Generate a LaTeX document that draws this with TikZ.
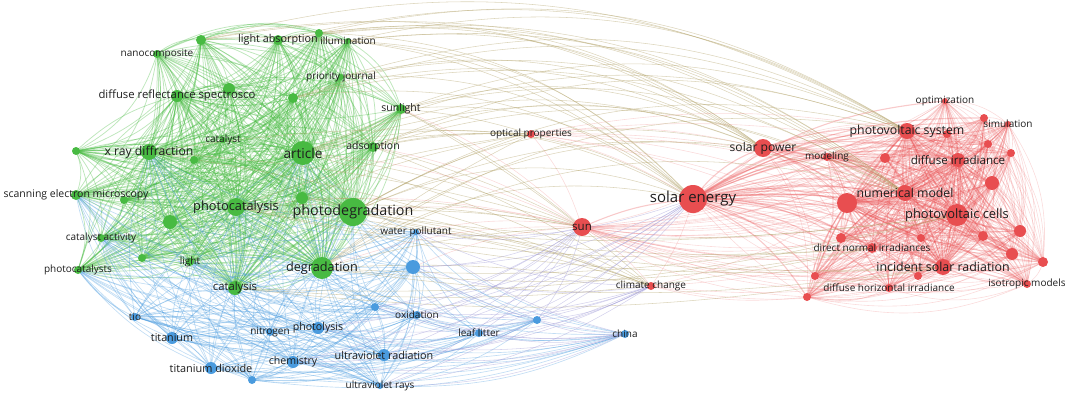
\documentclass[tikz,border=0pt]{standalone}
\usepackage{fontspec}
\setmainfont{Open Sans}
\usepackage{xcolor}
\usepackage{tikz}
\usetikzlibrary{backgrounds}

\definecolor{gclr}{RGB}{72,186,66}
\definecolor{rclr}{RGB}{232,78,80}
\definecolor{bclr}{RGB}{74,155,222}
\definecolor{grclr}{RGB}{178,162,105}
\definecolor{brclr}{RGB}{160,155,215}
\definecolor{txt}{RGB}{30,30,30}

\newcommand\greens{nanocomp,g1,lightabs,g2,illum,prior,drs,g3,g4,sunl,catalyst,g5,xray,article,adsorp,g6,sem,g7,g8,photocat,photodeg,g9,catact,g10,light,photocats,degrad,catalysis}
\newcommand\blues{waterpol,b1,b2,oxid,tio,titanium,nitrogen,photolys,uvrad,chem,tidiox,b3,uvrays}
\newcommand\reds{optim,r1,simul,pvsys,r2,solarpow,model,r3,r4,r5,diffirr,r6,nummod,r7,pvcells,r8,r9,r10,r11,dni,r12,isr,r13,r14,r15,iso,dhi,r16}

\begin{document}
\begin{tikzpicture}[
    x=1pt, y=-1pt,
    dot/.style    = {circle, inner sep=0pt, minimum size=#1pt},
    gdot/.style   = {dot=#1, fill=gclr},
    bdot/.style   = {dot=#1, fill=bclr},
    rdot/.style   = {dot=#1, fill=rclr},
    kw/.style     = {font=\fontsize{#1}{#1}\selectfont, text=txt, inner sep=0pt},
    gedge/.style  = {gclr, opacity=0.36, line width=0.75pt},
    bedge/.style  = {bclr, opacity=0.34, line width=0.65pt},
    redge/.style  = {rclr, opacity=0.2, line width=0.6pt},
    rhub/.style   = {rclr, opacity=0.3, line width=1.1pt},
    gredge/.style = {grclr, opacity=0.45, line width=0.55pt},
    bredge/.style = {brclr, opacity=0.45, line width=0.55pt}
]
  \useasboundingbox (0,0) rectangle (1065,399);

  % unlabeled items first
  \node[gdot=10] (g1)  at (201,40)  {};
  \node[gdot=8]  (g2)  at (319,33)  {};
  \node[gdot=12] (g3)  at (229,89)  {};
  \node[gdot=10] (g4)  at (293,98)  {};
  \node[gdot=8]  (g5)  at (194,160) {};
  \node[gdot=8]  (g6)  at (76,151)  {};
  \node[gdot=8]  (g7)  at (124,200) {};
  \node[gdot=12] (g8)  at (302,198) {};
  \node[gdot=14] (g9)  at (170,222) {};
  \node[gdot=8]  (g10) at (142,258) {};
  \node[bdot=14] (b1)  at (413,267) {};
  \node[bdot=8]  (b2)  at (375,307) {};
  \node[bdot=8]  (b3)  at (252,380) {};
  \node[bdot=8]  (b4)  at (537,320) {};
  \node[rdot=8]  (r1)  at (984,118) {};
  \node[rdot=8]  (r2)  at (947,134) {};
  \node[rdot=10] (r3)  at (885,158) {};
  \node[rdot=8]  (r4)  at (988,144) {};
  \node[rdot=8]  (r5)  at (1011,153) {};
  \node[rdot=14] (r6)  at (992,183) {};
  \node[rdot=20] (r7)  at (847,203) {};
  \node[rdot=12] (r8)  at (1020,231) {};
  \node[rdot=10] (r9)  at (983,236) {};
  \node[rdot=10] (r10) at (841,238) {};
  \node[rdot=8]  (r11) at (921,238) {};
  \node[rdot=12] (r12) at (1012,254) {};
  \node[rdot=10] (r13) at (1043,262) {};
  \node[rdot=8]  (r14) at (918,276) {};
  \node[rdot=8]  (r15) at (815,276) {};
  \node[rdot=8]  (r16) at (807,297) {};

  % green cluster
  \node[gdot=8,  label={[kw=10]center:nanocomposite}] (nanocomp) at (157,54) {};
  \node[gdot=10, label={[kw=10.8]center:light absorption}] (lightabs) at (278,40) {};
  \node[gdot=6,  label={[kw=10]center:illumination}] (illum) at (348,41) {};
  \node[gdot=6,  label={[kw=10]center:priority journal}] (prior) at (341,77) {};
  \node[gdot=12, label={[kw=11.3]center:diffuse reflectance spectrosco}] (drs) at (177,96) {};
  \node[gdot=10, label={[kw=10.5]center:sunlight}] (sunl) at (401,109) {};
  \node[gdot=6,  label={[kw=10]center:catalyst}] (catalyst) at (223,140) {};
  \node[gdot=16, label={[kw=12.2]center:x ray diffraction}] (xray) at (149,152) {};
  \node[gdot=24, label={[kw=13.6]center:article}] (article) at (303,153) {};
  \node[gdot=10, label={[kw=10.5]center:adsorption}] (adsorp) at (373,147) {};
  \node[gdot=10, label={[kw=10.5]center:scanning electron microscopy}] (sem) at (76,195) {};
  \node[gdot=18, label={[kw=12.8]center:photocatalysis}] (photocat) at (236,207) {};
  \node[gdot=28, label={[kw=14.3]center:photodegradation}] (photodeg) at (353,212) {};
  \node[gdot=8,  label={[kw=10]center:catalyst activity}] (catact) at (101,238) {};
  \node[gdot=8,  label={[kw=10]center:light}] (light) at (190,262) {};
  \node[gdot=8,  label={[kw=10]center:photocatalysts}] (photocats) at (78,270) {};
  \node[gdot=22, label={[kw=12.7]center:degradation}] (degrad) at (322,268) {};
  \node[gdot=14, label={[kw=11.3]center:catalysis}] (catalysis) at (235,288) {};

  % blue cluster
  \node[bdot=6,  label={[kw=10]center:water pollutant}] (waterpol) at (416,232) {};
  \node[bdot=8,  label={[kw=10]center:oxidation}] (oxid) at (417,315) {};
  \node[bdot=8,  label={[kw=10]center:tio}] (tio) at (135,317) {};
  \node[bdot=12, label={[kw=10.7]center:titanium}] (titanium) at (172,338) {};
  \node[bdot=8,  label={[kw=10]center:nitrogen}] (nitrogen) at (270,332) {};
  \node[bdot=12, label={[kw=10.6]center:photolysis}] (photolys) at (318,328) {};
  \node[bdot=12, label={[kw=10.8]center:ultraviolet radiation}] (uvrad) at (384,355) {};
  \node[bdot=12, label={[kw=10.6]center:chemistry}] (chem) at (293,362) {};
  \node[bdot=12, label={[kw=10.9]center:titanium dioxide}] (tidiox) at (211,368) {};
  \node[bdot=6,  label={[kw=10]center:ultraviolet rays}] (uvrays) at (380,386) {};
  \node[bdot=8,  label={[kw=10]center:leaf litter}] (leaf) at (479,333) {};
  \node[bdot=8,  label={[kw=10]center:china}] (china) at (625,334) {};

  % red cluster
  \node[rdot=8,  label={[kw=10]center:optical properties}] (optprop) at (531,134) {};
  \node[rdot=18, label={[kw=11.5]center:sun}] (sun) at (582,227) {};
  \node[rdot=28, label={[kw=15]center:solar energy}] (solar) at (693,199) {};
  \node[rdot=8,  label={[kw=10]center:climate change}] (climate) at (651,286) {};
  \node[rdot=6,  label={[kw=10]center:optimization}] (optim) at (945,101) {};
  \node[rdot=6,  label={[kw=10]center:simulation}] (simul) at (1008,124) {};
  \node[rdot=16, label={[kw=12.3]center:photovoltaic system}] (pvsys) at (907,131) {};
  \node[rdot=18, label={[kw=12.1]center:solar power}] (solarpow) at (763,148) {};
  \node[rdot=8,  label={[kw=10]center:modeling}] (model) at (827,157) {};
  \node[rdot=14, label={[kw=11.6]center:diffuse irradiance}] (diffirr) at (958,160) {};
  \node[rdot=16, label={[kw=12.3]center:numerical model}] (nummod) at (905,193) {};
  \node[rdot=22, label={[kw=12.9]center:photovoltaic cells}] (pvcells) at (957,215) {};
  \node[rdot=10, label={[kw=10]center:direct normal irradiances}] (dni) at (872,248) {};
  \node[rdot=16, label={[kw=12.4]center:incident solar radiation}] (isr) at (943,267) {};
  \node[rdot=8,  label={[kw=10]center:isotropic models}] (iso) at (1027,284) {};
  \node[rdot=8,  label={[kw=10]center:diffuse horizontal irradiance}] (dhi) at (889,288) {};

  \begin{scope}[on background layer]
    % links inside the clusters
    \foreach \a [count=\i] in \greens {
      \foreach \b [count=\j] in \greens {
        \ifnum\j>\i \draw[gedge] (\a.center) to[bend left=22] (\b.center); \fi
      }
    }
    \foreach \a in {article,photodeg,photocat,degrad,xray,catalysis,drs}
      \foreach \b in \greens
        \draw[gedge] (\a.center) to[bend right=14] (\b.center);
    \foreach \a [count=\i] in \reds {
      \foreach \b [count=\j] in \reds {
        \ifnum\j>\i \draw[redge] (\a.center) to[bend left=20] (\b.center); \fi
      }
    }
    \foreach \a in {pvcells,nummod,isr,pvsys,r7,diffirr}
      \foreach \b in \reds
        \draw[rhub] (\a.center) to[bend right=12] (\b.center);
    \foreach \a [count=\i] in \blues {
      \foreach \b [count=\j] in \blues {
        \ifnum\j>\i \draw[bedge] (\a.center) to[bend left=18] (\b.center); \fi
      }
    }
    \foreach \b in \reds {
      \draw[rhub] (solar.center) to[bend left=16] (\b.center);
      \draw[redge] (solar.center) to[bend right=8] (\b.center);
      \draw[redge] (sun.center) to[bend right=14] (\b.center);
    }
    \foreach \b in {pvsys,solarpow,nummod,pvcells,isr,dni,diffirr,r7,solar}
      \draw[redge] (optprop.center) to[bend left=10] (\b.center);
    \foreach \b in {solar,sun,isr,r7,dhi,r16,pvcells}
      \draw[redge] (climate.center) to[bend right=10] (\b.center);
    \draw[rhub] (sun) to[bend left=8] (solar);
    \draw[redge] (sun) to[bend right=10] (optprop);

    % blue to green
    \foreach \a in \blues
      \foreach \b in {photodeg,degrad,catalysis,photocat,article,photocats,light,xray,sem,catact}
        \draw[bedge] (\a.center) to[bend left=14] (\b.center);
    \foreach \a in {leaf,b4,china}
      \foreach \b in {waterpol,b1,b2,oxid,tio,titanium,photolys,uvrad,chem,tidiox,b3,uvrays,photodeg,degrad}
        \draw[bedge] (\a.center) to[bend left=14] (\b.center);

    % green to red
    \foreach \a in {g2,lightabs,illum,sunl,prior,adsorp,article,photodeg,degrad,g4,g1}
      \foreach \b in {solar,pvsys,solarpow,nummod}
        \draw[gredge] (\a.center) to[bend left=22] (\b.center);
    \foreach \a in {sunl,adsorp,article,photodeg,degrad,photocat,xray,g8}
      \foreach \b in {sun,optprop,climate}
        \draw[gredge] (\a.center) to[bend left=6] (\b.center);
    \foreach \a in {degrad,photodeg,catalysis,photocat}
      \foreach \b in {isr,dni,pvcells}
        \draw[gredge] (\a.center) to[bend right=8] (\b.center);
    \foreach \b in {article,photodeg,degrad,sunl,adsorp,waterpol,b1,photocat}
      \draw[redge] (sun.center) to[bend right=10] (\b.center);

    % blue to red
    \foreach \a in {uvrad,oxid,b1,b2,waterpol,uvrays,photolys,chem,leaf,b4}
      \foreach \b in {sun,solar,climate,china}
        \draw[bredge] (\a.center) to[bend right=12] (\b.center);
  \end{scope}
\end{tikzpicture}
\end{document}
